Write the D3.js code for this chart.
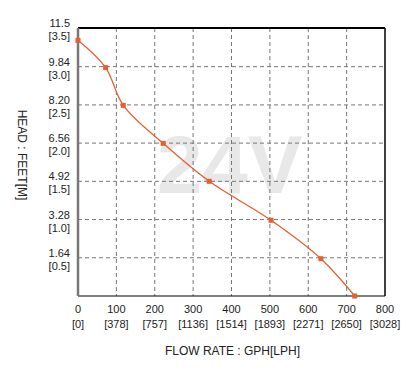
<!DOCTYPE html>
<html>
<head>
<meta charset="utf-8">
<script src="https://cdn.jsdelivr.net/npm/d3@7"></script>
<style>
	body { margin: 0; background: #fff; }
	svg text { font-family: Arial, "Liberation Sans", sans-serif; fill: #222; }
</style>
</head>
<body>
<div id="chart"></div>
<script>
// flow rate (GPH) vs head (feet)
let flowGph		= [0, 72, 118, 222, 342, 503, 633, 721];
let headFeet	= [10.97, 9.80, 8.18, 6.55, 4.92, 3.25, 1.60, 0];

let xTicks		= [0, 100, 200, 300, 400, 500, 600, 700, 800];
let xTickLph	= ['[0]', '[378]', '[757]', '[1136]', '[1514]', '[1893]', '[2271]', '[2650]', '[3028]'];
let yTicks		= [1.64, 3.28, 4.92, 6.56, 8.20, 9.84, 11.5];
let yTickFeet	= ['1.64', '3.28', '4.92', '6.56', '8.20', '9.84', '11.5'];
let yTickM		= ['[0.5]', '[1.0]', '[1.5]', '[2.0]', '[2.5]', '[3.0]', '[3.5]'];

let data = flowGph.map((f, i) => ({ flow: f, head: headFeet[i] }));

let canvasWidth		= 415;
let canvasHeight	= 368;
let margin			= { top: 28, right: 30, bottom: 72, left: 78 };
let width			= canvasWidth - margin.left - margin.right;
let height			= canvasHeight - margin.top - margin.bottom;

let x = d3.scaleLinear().domain([0, 800]).range([0, width]);
let y = d3.scaleLinear().domain([0, 11.5]).range([height, 0]);

let svg = d3.select('#chart').append('svg')
		.attr('width', canvasWidth)
		.attr('height', canvasHeight)
	.append('g')
		.attr('transform', 'translate(' + margin.left + ',' + margin.top + ')');

// watermark
svg.append('text')
	.attr('x', x(395))
	.attr('y', y(4.4))
	.attr('text-anchor', 'middle')
	.style('font-size', '82px')
	.style('font-weight', 'bold')
	.style('fill', '#e8e8e8')
	.text('24V');

// grid
svg.append('g').selectAll('line')
	.data(xTicks.filter((t) => t > 0 && t < 800))
	.enter().append('line')
		.attr('x1', (t) => x(t)).attr('x2', (t) => x(t))
		.attr('y1', 0).attr('y2', height)
		.attr('stroke', '#777').attr('stroke-dasharray', '4,3');

svg.append('g').selectAll('line')
	.data(yTicks.filter((t) => t < 11.5))
	.enter().append('line')
		.attr('x1', 0).attr('x2', width)
		.attr('y1', (t) => y(t)).attr('y2', (t) => y(t))
		.attr('stroke', '#777').attr('stroke-dasharray', '4,3');

// frame
svg.append('line').attr('x1', 0).attr('x2', width).attr('y1', 0).attr('y2', 0)
	.attr('stroke', '#000').attr('stroke-width', 2);
svg.append('line').attr('x1', width).attr('x2', width).attr('y1', 0).attr('y2', height)
	.attr('stroke', '#000').attr('stroke-width', 1.5);
svg.append('line').attr('x1', 0).attr('x2', width).attr('y1', height).attr('y2', height)
	.attr('stroke', '#000').attr('stroke-width', 1.2);
svg.append('line').attr('x1', 0).attr('x2', 0).attr('y1', 0).attr('y2', height)
	.attr('stroke', '#777').attr('stroke-width', 2.5);

// x tick labels
let xAxis = svg.append('g').attr('transform', 'translate(0,' + height + ')');
xTicks.forEach((t, i) => {
	let g = xAxis.append('text')
		.attr('x', x(t))
		.attr('text-anchor', 'middle')
		.style('font-size', '11px');
	g.append('tspan').attr('x', x(t)).attr('y', 17).text(t);
	g.append('tspan').attr('x', x(t)).attr('y', 32).text(xTickLph[i]);
});

// y tick labels
yTicks.forEach((t, i) => {
	let g = svg.append('text')
		.attr('text-anchor', 'end')
		.style('font-size', '11px');
	g.append('tspan').attr('x', -8).attr('y', y(t) - 1).text(yTickFeet[i]);
	g.append('tspan').attr('x', -8).attr('y', y(t) + 12).text(yTickM[i]);
});

// axis titles
svg.append('text')
	.attr('transform', 'translate(' + (-60) + ',' + (height / 2 - 7) + ') rotate(90)')
	.attr('text-anchor', 'middle')
	.style('font-size', '12px')
	.text('HEAD : FEET[M]');

svg.append('text')
	.attr('x', x(400) + 1)
	.attr('y', height + 59)
	.attr('text-anchor', 'middle')
	.style('font-size', '12px')
	.text('FLOW RATE : GPH[LPH]');

// curve
let line = d3.line()
	.x((o) => x(o.flow))
	.y((o) => y(o.head))
	.curve(d3.curveCatmullRom);

svg.append('path')
	.datum(data)
	.attr('d', line)
	.attr('fill', 'none')
	.attr('stroke', '#e5602e')
	.attr('stroke-width', 1.3);

svg.selectAll('.pt')
	.data(data)
	.enter().append('rect')
		.attr('class', 'pt')
		.attr('x', (o) => x(o.flow) - 2.5)
		.attr('y', (o) => y(o.head) - 2.5)
		.attr('width', 5)
		.attr('height', 5)
		.attr('fill', '#e5602e');
</script>
</body>
</html>
